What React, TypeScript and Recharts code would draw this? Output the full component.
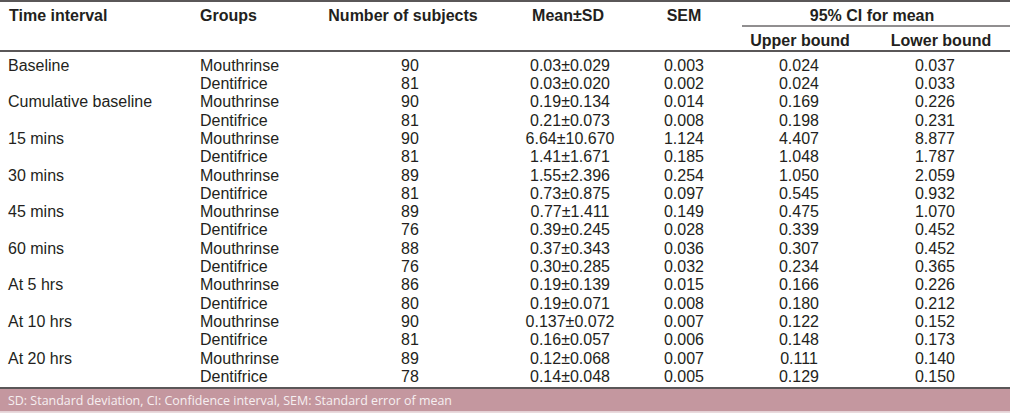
import { ComposedChart, Scatter, XAxis, YAxis, ReferenceLine, ReferenceArea, Label } from "recharts";

const timeIntervals = [
  "Baseline", "Cumulative baseline", "15 mins", "30 mins", "45 mins",
  "60 mins", "At 5 hrs", "At 10 hrs", "At 20 hrs",
];
const groups = ["Mouthrinse", "Dentifrice"];
const subjects = [90, 81, 90, 81, 90, 81, 89, 81, 89, 76, 88, 76, 86, 80, 90, 81, 89, 78];
const means = [
  "0.03", "0.03", "0.19", "0.21", "6.64", "1.41", "1.55", "0.73", "0.77",
  "0.39", "0.37", "0.30", "0.19", "0.19", "0.137", "0.16", "0.12", "0.14",
];
const sds = [
  "0.029", "0.020", "0.134", "0.073", "10.670", "1.671", "2.396", "0.875", "1.411",
  "0.245", "0.343", "0.285", "0.139", "0.071", "0.072", "0.057", "0.068", "0.048",
];
const sems = [
  "0.003", "0.002", "0.014", "0.008", "1.124", "0.185", "0.254", "0.097", "0.149",
  "0.028", "0.036", "0.032", "0.015", "0.008", "0.007", "0.006", "0.007", "0.005",
];
const upperBounds = [
  "0.024", "0.024", "0.169", "0.198", "4.407", "1.048", "1.050", "0.545", "0.475",
  "0.339", "0.307", "0.234", "0.166", "0.180", "0.122", "0.148", "0.111", "0.129",
];
const lowerBounds = [
  "0.037", "0.033", "0.226", "0.231", "8.877", "1.787", "2.059", "0.932", "1.070",
  "0.452", "0.452", "0.365", "0.226", "0.212", "0.152", "0.173", "0.140", "0.150",
];
const headers = ["Time interval", "Groups", "Number of subjects", "Mean±SD", "SEM", "95% CI for mean"];
const subHeaders = ["Upper bound", "Lower bound"];
const footnote = "SD: Standard deviation, CI: Confidence interval, SEM: Standard error of mean";

const W = 1010;
const H = 413;
// y axis is in "row" units: row 0 centre sits at 65px, one row = 18.3px
const ROW0 = 65;
const ROW_H = 18.3;
const toRow = (px: number) => (px - ROW0) / ROW_H;

const FONT = "'Liberation Sans', Arial, sans-serif";
const INK = "#231f20";

type Cell = { x: number; y: number; label: string };

const rowCells = (x: number, labels: string[]): Cell[] =>
  labels.map((label, i) => ({ x, y: i, label }));

const columns: { anchor: "start" | "middle"; data: Cell[] }[] = [
  {
    anchor: "start",
    data: timeIntervals.map((label, i) => ({ x: 8, y: i * 2, label })),
  },
  { anchor: "start", data: rowCells(200, subjects.map((_, i) => groups[i % 2])) },
  { anchor: "middle", data: rowCells(410, subjects.map(String)) },
  { anchor: "middle", data: rowCells(570, means.map((m, i) => `${m}±${sds[i]}`)) },
  { anchor: "middle", data: rowCells(684, sems) },
  { anchor: "middle", data: rowCells(799, upperBounds) },
  { anchor: "middle", data: rowCells(935, lowerBounds) },
];

const headerRow = toRow(15);
const subHeaderRow = toRow(40);
const headerCells: { anchor: "start" | "middle"; data: Cell[] }[] = [
  { anchor: "start", data: [{ x: 9, y: headerRow, label: headers[0] }, { x: 200, y: headerRow, label: headers[1] }] },
  {
    anchor: "middle",
    data: [
      { x: 403, y: headerRow, label: headers[2] },
      { x: 568, y: headerRow, label: headers[3] },
      { x: 684, y: headerRow, label: headers[4] },
      { x: 872, y: headerRow, label: headers[5] },
      { x: 800, y: subHeaderRow, label: subHeaders[0] },
      { x: 941, y: subHeaderRow, label: subHeaders[1] },
    ],
  },
];

const textShape = (anchor: "start" | "middle", bold: boolean) => (p: any) => (
  <text
    x={p.cx}
    y={p.cy}
    dy="0.36em"
    textAnchor={anchor}
    fontFamily={FONT}
    fontSize={16}
    fontWeight={bold ? 700 : 400}
    fill={INK}
  >
    {p.payload.label}
  </text>
);

const footLabel = (props: any) => {
  const vb = props.viewBox || {};
  return (
    <text
      x={(vb.x ?? 0) + 8}
      y={(vb.y ?? 0) + (vb.height ?? 0) / 2}
      dy="0.36em"
      fill="#f6eff1"
      fontSize={13}
      fontFamily="'Open Sans', sans-serif"
      textLength={444}
      lengthAdjust="spacingAndGlyphs"
    >
      {footnote}
    </text>
  );
};

export default function App() {
  return (
    <div style={{ width: W, height: H, background: "#fff" }}>
      <style>{`body{margin:0}`}</style>
      <ComposedChart width={W} height={H} margin={{ top: 0, right: 0, bottom: 0, left: 0 }}>
        <XAxis type="number" dataKey="x" domain={[0, W]} hide allowDataOverflow />
        <YAxis type="number" dataKey="y" domain={[toRow(0), toRow(H)]} reversed hide allowDataOverflow />

        <ReferenceArea
          x1={0}
          x2={W}
          y1={toRow(389)}
          y2={toRow(411.5)}
          fill="#c4979f"
          fillOpacity={1}
          stroke="none"
          ifOverflow="visible"
        >
          <Label content={footLabel} />
        </ReferenceArea>
        <ReferenceArea x1={0} x2={W} y1={toRow(411.5)} y2={toRow(H)} fill="#e9dadd" fillOpacity={1} stroke="none" ifOverflow="visible" />

        <ReferenceLine y={toRow(1)} stroke={INK} strokeWidth={1.5} ifOverflow="visible" />
        <ReferenceLine
          segment={[{ x: 742, y: toRow(26) }, { x: W, y: toRow(26) }]}
          stroke={INK}
          strokeWidth={1}
          ifOverflow="visible"
        />
        <ReferenceLine y={toRow(51)} stroke={INK} strokeWidth={1.5} ifOverflow="visible" />
        <ReferenceLine y={toRow(388)} stroke={INK} strokeWidth={1.5} ifOverflow="visible" />

        {headerCells.map((c, i) => (
          <Scatter key={`h${i}`} data={c.data} shape={textShape(c.anchor, true)} isAnimationActive={false} />
        ))}
        {columns.map((c, i) => (
          <Scatter key={`c${i}`} data={c.data} shape={textShape(c.anchor, false)} isAnimationActive={false} />
        ))}
      </ComposedChart>
    </div>
  );
}
